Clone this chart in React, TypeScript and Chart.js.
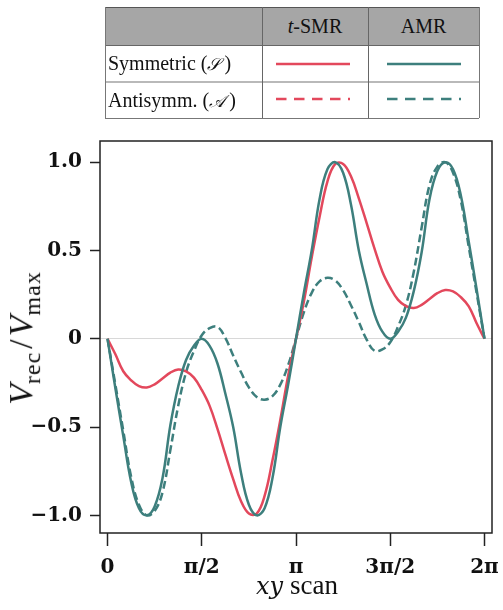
import React, { useEffect, useRef } from "react";
import { Chart, registerables } from "chart.js";

Chart.register(...registerables);

// ---- data ----
const X_DEG = [
  0, 7.5, 15, 22.5, 30, 37.5, 45, 52.5, 60, 67.5, 75, 82.5, 90, 97.5, 105, 112.5,
  120, 127.5, 135, 142.5, 150, 157.5, 165, 172.5, 180, 187.5, 195, 202.5, 210, 217.5,
  225, 232.5, 240, 247.5, 255, 262.5, 270, 277.5, 285, 292.5, 300, 307.5, 315, 322.5,
  330, 337.5, 345, 352.5, 360,
];

// Symmetric t-SMR (red, solid)
const S_TSMR = [
  0, -0.088, -0.184, -0.235, -0.268, -0.276, -0.258, -0.225, -0.192, -0.174, -0.185, -0.22,
  -0.29, -0.38, -0.51, -0.655, -0.795, -0.92, -0.99, -0.99, -0.89, -0.69, -0.46, -0.21,
  0, 0.21, 0.46, 0.69, 0.89, 0.99, 0.99, 0.92, 0.795, 0.655, 0.51, 0.38, 0.29, 0.22,
  0.185, 0.174, 0.192, 0.225, 0.258, 0.276, 0.268, 0.235, 0.184, 0.088, 0,
];

// Symmetric AMR (teal, solid)
const S_AMR = [
  0, -0.28, -0.55, -0.81, -0.96, -1.0, -0.95, -0.79, -0.49, -0.27, -0.12, -0.04,
  0, -0.04, -0.14, -0.31, -0.5, -0.76, -0.94, -1.0, -0.96, -0.79, -0.5, -0.26,
  0, 0.26, 0.5, 0.79, 0.96, 1.0, 0.94, 0.76, 0.5, 0.31, 0.14, 0.04,
  0, 0.04, 0.12, 0.27, 0.49, 0.79, 0.95, 1.0, 0.96, 0.81, 0.55, 0.28, 0,
];

// Antisymmetric AMR (teal, dashed)
const A_AMR = [
  0, -0.26, -0.52, -0.78, -0.94, -1.0, -0.975, -0.87, -0.63, -0.38, -0.19, -0.07,
  0.02, 0.06, 0.068, 0.005, -0.095, -0.19, -0.275, -0.33, -0.345, -0.325, -0.26, -0.15,
  0, 0.15, 0.26, 0.325, 0.345, 0.33, 0.275, 0.19, 0.095, -0.005, -0.068, -0.06,
  -0.02, 0.07, 0.19, 0.38, 0.63, 0.87, 0.975, 1.0, 0.94, 0.78, 0.52, 0.26, 0,
];

const X_TICKS = [0, 90, 180, 270, 360];
const X_TICK_LABELS = ["0", "π/2", "π", "3π/2", "2π"];
const Y_TICKS = [-1, -0.5, 0, 0.5, 1];
const Y_TICK_LABELS = ["−1.0", "−0.5", "0", "0.5", "1.0"];

const COL_HEADERS = ["t-SMR", "AMR"];
const ROW_NAMES = ["Symmetric", "Antisymm."];
const ROW_SYMBOLS = ["𝒮", "𝒜"];

const RED = "#e3485c";
const TEAL = "#3d7f7d";

const framePlugin = {
  id: "frame",
  afterDatasetsDraw(chart: any) {
    const { ctx, chartArea } = chart;
    ctx.save();
    ctx.strokeStyle = "#222";
    ctx.lineWidth = 1.5;
    ctx.strokeRect(chartArea.left, chartArea.top, chartArea.right - chartArea.left, chartArea.bottom - chartArea.top);
    ctx.restore();
  },
};

function LegendLine({ x, y, color, dashed }: { x: number; y: number; color: string; dashed: boolean }) {
  return (
    <svg style={{ position: "absolute", left: x, top: y - 3, overflow: "visible" }} width={74} height={6}>
      <line x1={0} y1={3} x2={74} y2={3} stroke={color} strokeWidth={2.7} strokeDasharray={dashed ? "10.5 7.5" : undefined} />
    </svg>
  );
}

function Table() {
  const colX = [105, 262, 368, 479];
  const rowY = [7, 45, 82, 118];
  const font = { fontFamily: "'Liberation Serif', serif", fontSize: 20, color: "#111" };
  const cell = (l: number, t: number, w: number, h: number, content: React.ReactNode, center: boolean, key: string) => (
    <div
      key={key}
      style={{
        position: "absolute", left: l, top: t, width: w, height: h, display: "flex", alignItems: "center",
        justifyContent: center ? "center" : "flex-start", paddingLeft: center ? 0 : 3, boxSizing: "border-box",
        whiteSpace: "nowrap", ...font,
      }}
    >
      {content}
    </div>
  );
  const lines: React.ReactNode[] = [];
  const hl = (y: number, c: string, w: number, k: string) =>
    lines.push(<div key={k} style={{ position: "absolute", left: colX[0], top: y - w / 2, width: colX[3] - colX[0], height: w, background: c }} />);
  const vl = (x: number, y0: number, y1: number, c: string, k: string) =>
    lines.push(<div key={k} style={{ position: "absolute", left: x - 0.5, top: y0, width: 1, height: y1 - y0, background: c }} />);
  hl(rowY[0], "#555", 1, "h0");
  hl(rowY[1], "#666", 1, "h1");
  hl(rowY[2], "#b9b9b9", 2, "h2");
  hl(rowY[3], "#777", 1, "h3");
  vl(colX[0], rowY[0], rowY[3], "#777", "v0");
  vl(colX[1], rowY[0], rowY[3], "#666", "v1");
  vl(colX[2], rowY[0], rowY[3], "#666", "v2");
  vl(colX[3], rowY[0], rowY[3], "#777", "v3");
  const headerContent = (h: string) =>
    h.startsWith("t-") ? (
      <span><i>t</i>{h.slice(1)}</span>
    ) : (
      <span>{h}</span>
    );
  return (
    <>
      <div style={{ position: "absolute", left: colX[0], top: rowY[0], width: colX[3] - colX[0], height: rowY[1] - rowY[0], background: "#a6a6a6" }} />
      {COL_HEADERS.map((h, i) => cell(colX[i + 1], rowY[0], colX[i + 2] - colX[i + 1], rowY[1] - rowY[0], headerContent(h), true, "hd" + i))}
      {ROW_NAMES.map((r, i) =>
        cell(colX[0], rowY[i + 1], colX[1] - colX[0], rowY[i + 2] - rowY[i + 1],
          <span>{r} (<i style={{ fontFamily: "'DejaVu Serif', 'Liberation Serif', serif", fontSize: 17, marginRight: 4 }}>{ROW_SYMBOLS[i]}</i>)</span>, false, "rw" + i)
      )}
      {lines}
      <LegendLine x={276} y={64.3} color={RED} dashed={false} />
      <LegendLine x={387} y={64.3} color={TEAL} dashed={false} />
      <LegendLine x={276} y={99.3} color={RED} dashed={true} />
      <LegendLine x={387} y={99.3} color={TEAL} dashed={true} />
    </>
  );
}

export default function App() {
  const ref = useRef<HTMLCanvasElement | null>(null);

  useEffect(() => {
    if (!ref.current) return;
    const mk = (arr: number[]) => X_DEG.map((x, i) => ({ x, y: arr[i] }));
    const tickFont = { family: "'DejaVu Serif', serif", size: 20, weight: "bold" as const };
    const line = { borderWidth: 2.5, pointRadius: 0, tension: 0.4, fill: false };
    const chart = new Chart(ref.current, {
      type: "line",
      data: {
        datasets: [
          { label: "AMR (𝒮)", data: mk(S_AMR), borderColor: TEAL, ...line },
          { label: "t-SMR (𝒮)", data: mk(S_TSMR), borderColor: RED, ...line },
          { label: "AMR (𝒜)", data: mk(A_AMR), borderColor: TEAL, borderDash: [8, 4], ...line },
        ],
      },
      options: {
        animation: false,
        responsive: false,
        maintainAspectRatio: false,
        layout: { padding: { left: 0, right: 38, top: 141, bottom: 0 } },
        plugins: { legend: { display: false }, tooltip: { enabled: false } },
        scales: {
          x: {
            type: "linear",
            min: -7.2,
            max: 367.2,
            afterBuildTicks: (s: any) => { s.ticks = X_TICKS.map((v) => ({ value: v })); },
            afterFit: (s: any) => { s.height = 77; },
            ticks: {
              autoSkip: false,
              maxRotation: 0,
              padding: 10,
              color: "#111",
              font: tickFont,
              callback: (v: any) => X_TICK_LABELS[X_TICKS.indexOf(Number(v))] ?? "",
            },
            grid: { drawOnChartArea: false, drawTicks: true, tickLength: 13, tickWidth: 1.5, tickColor: "#222" },
            border: { display: false },
          },
          y: {
            type: "linear",
            min: -1.1,
            max: 1.12,
            afterBuildTicks: (s: any) => { s.ticks = Y_TICKS.map((v) => ({ value: v })); },
            afterFit: (s: any) => { s.width = 100; },
            ticks: {
              padding: 8,
              color: "#111",
              font: tickFont,
              callback: (v: any) => Y_TICK_LABELS[Y_TICKS.indexOf(Number(v))] ?? "",
            },
            grid: {
              drawOnChartArea: true,
              drawTicks: true,
              tickLength: 10,
              tickWidth: 1.5,
              tickColor: "#222",
              color: (c: any) => (c.tick && c.tick.value === 0 ? "#d8d8d8" : "rgba(0,0,0,0)"),
              lineWidth: 1,
            },
            border: { display: false },
          },
        },
      },
      plugins: [framePlugin],
    } as any);
    return () => chart.destroy();
  }, []);

  return (
    <div style={{ position: "fixed", left: 0, top: 0, width: 503, height: 610, background: "#fff", overflow: "hidden" }}>
      <canvas ref={ref} width={530} height={610} style={{ position: "absolute", left: 0, top: 0, width: 530, height: 610 }} />
      <Table />
      <div
        style={{
          position: "absolute", left: 24, top: 338, transform: "translate(-50%, -50%) rotate(-90deg)",
          whiteSpace: "nowrap", fontFamily: "'Liberation Serif', serif", fontSize: 34, color: "#111",
        }}
      >
        <i>V</i><sub style={{ fontSize: 24, letterSpacing: 1 }}>rec</sub>
        <span style={{ margin: "0 3px" }}>/</span>
        <i>V</i><sub style={{ fontSize: 24, letterSpacing: 1 }}>max</sub>
      </div>
      <div
        style={{
          position: "absolute", left: 297, top: 585, transform: "translate(-50%, -50%)",
          whiteSpace: "nowrap", fontFamily: "'Liberation Serif', serif", fontSize: 27, color: "#111",
        }}
      >
        <i style={{ fontFamily: "'DejaVu Serif', serif", fontSize: 24 }}>xy</i> scan
      </div>
    </div>
  );
}
